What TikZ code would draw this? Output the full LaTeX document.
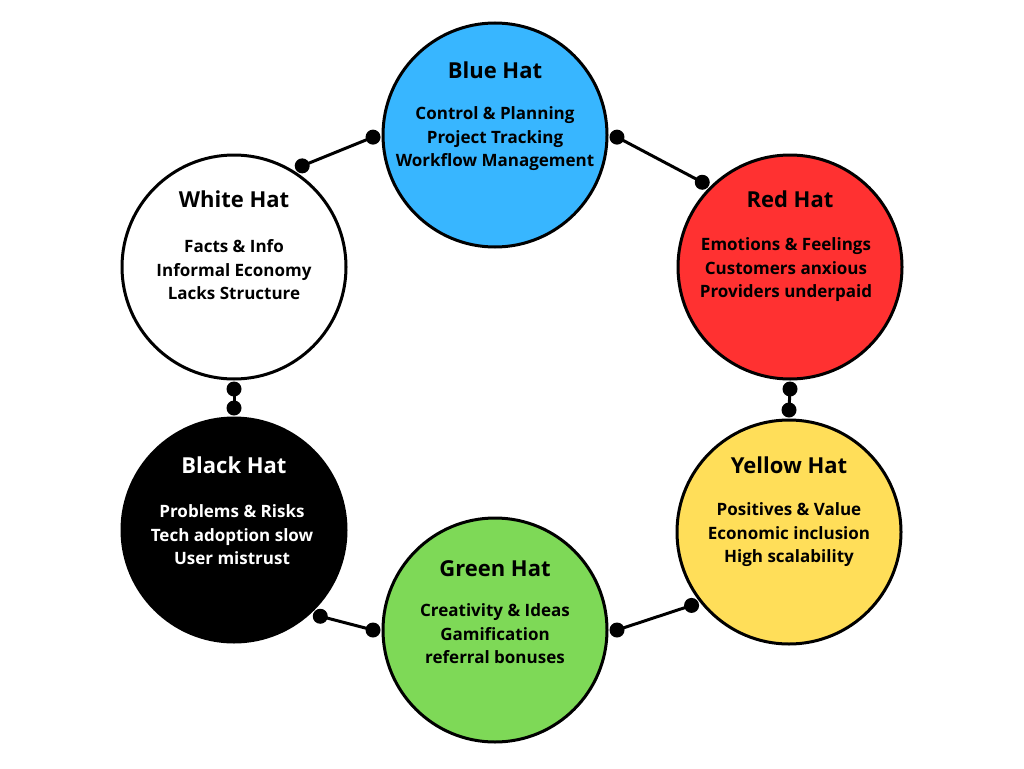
\documentclass[tikz,border=0pt]{standalone}
\usepackage{fontspec}
\setmainfont{Open Sans}
\usetikzlibrary{calc}
\definecolor{hatblue}{HTML}{38B6FF}
\definecolor{hatred}{HTML}{FF3131}
\definecolor{hatyellow}{HTML}{FFDE59}
\definecolor{hatgreen}{HTML}{7ED957}
\begin{document}
\begin{tikzpicture}[x=1pt,y=-1pt,
  hat/.style={circle, draw=black, line width=3pt, minimum size=224pt, inner sep=0pt, outer sep=10pt},
  hattitle/.style={font=\fontsize{22}{26}\selectfont\bfseries, inner sep=0pt},
  hatbody/.style={font=\fontsize{17}{23.5}\selectfont\bfseries, align=center, inner sep=0pt},
  link/.style={line width=3pt},
  dot/.style={circle, fill=black, inner sep=0pt, minimum size=15pt}]
\useasboundingbox (0,0) rectangle (1024,768);

% the six hats
\node[hat, fill=hatblue]   (blue)   at (495,135) {};
\node[hat, fill=hatred]    (red)    at (790,267) {};
\node[hat, fill=hatyellow] (yellow) at (789,532) {};
\node[hat, fill=hatgreen]  (green)  at (495,630) {};
\node[hat, fill=black]     (black)  at (234,530) {};
\node[hat, fill=white]     (white)  at (234,267) {};

% titles and notes
\node[hattitle] (bluet) at ($(blue)+(0,-65)$) {Blue Hat};
\node[hatbody]  (blueb) at ($(blue)+(0,4)$) {Control \& Planning\\Project Tracking\\Workflow Management};
\node[hattitle] (redt) at ($(red)+(0,-68)$) {Red Hat};
\node[hatbody]  (redb) at ($(red)+(-4,3)$) {Emotions \& Feelings\\Customers anxious\\Providers underpaid};
\node[hattitle] (yellowt) at ($(yellow)+(0,-67)$) {Yellow Hat};
\node[hatbody]  (yellowb) at ($(yellow)+(0,3)$) {Positives \& Value\\Economic inclusion\\High scalability};
\node[hattitle] (greent) at ($(green)+(0,-61)$) {Green Hat};
\node[hatbody]  (greenb) at ($(green)+(0,4)$) {Creativity \& Ideas\\Gamification\\referral bonuses};
\node[hattitle, text=white] (blackt) at ($(black)+(0,-65)$) {Black Hat};
\node[hatbody, text=white]  (blackb) at ($(black)+(-2,5)$) {Problems \& Risks\\Tech adoption slow\\User mistrust};
\node[hattitle] (whitet) at ($(white)+(0,-68)$) {White Hat};
\node[hatbody]  (whiteb) at ($(white)+(0,3)$) {Facts \& Info\\Informal Economy\\Lacks Structure};

% connectors with round ends
\foreach \a/\b in {blue.181/white.56, blue.-1/red.136, red.-90/yellow.90,
                   white.-90/black.90, black.-45/green.180, green.0/yellow.217} {
  \draw[link] (\a) -- (\b);
  \node[dot] at (\a) {};
  \node[dot] at (\b) {};
}
\end{tikzpicture}
\end{document}
